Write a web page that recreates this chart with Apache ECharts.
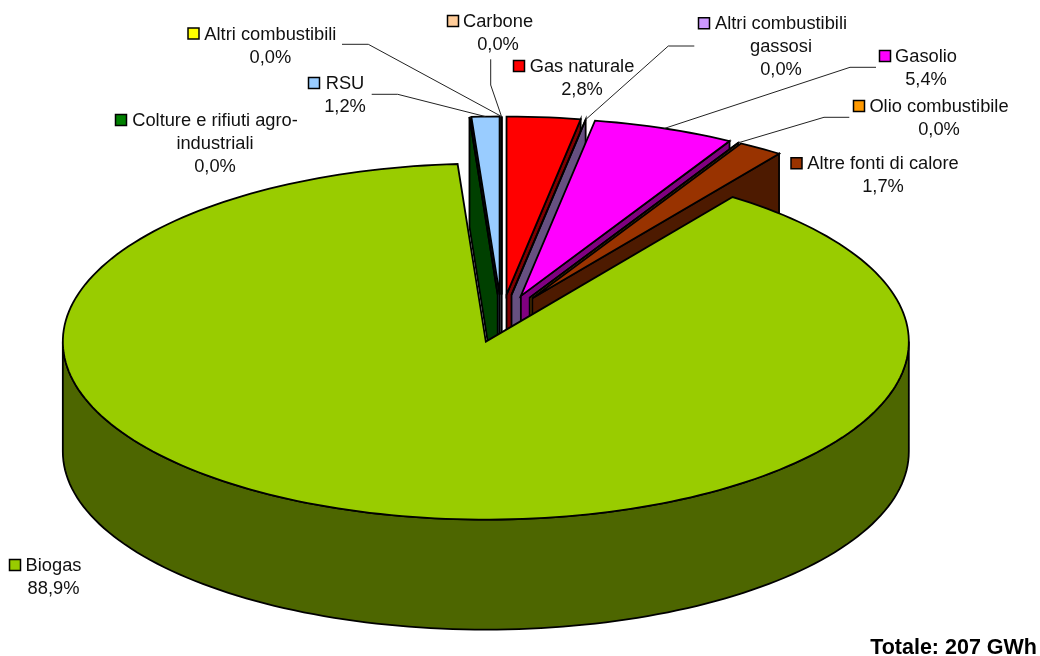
<!DOCTYPE html>
<html>
<head>
<meta charset="utf-8">
<style>html,body{margin:0;padding:0;background:#fff}#c{width:1040px;height:656px}</style>
<script src="https://cdn.jsdelivr.net/npm/echarts@6/dist/echarts.min.js"></script>
</head>
<body>
<div id="c"></div>
<script>
// --- data ---
var categories = ['Gas naturale', 'Altri combustibili\ngassosi', 'Gasolio', 'Olio combustibile', 'Altre fonti di calore', 'Biogas', 'Colture e rifiuti agro-\nindustriali', 'RSU', 'Altri combustibili', 'Carbone'];
var shares = [2.8, 0.0, 5.4, 0.0, 1.7, 88.9, 0.0, 1.2, 0.0, 0.0];
var totalLabel = 'Totale: 207 GWh';

// --- styles ---
var colors = ['#FF0000', '#CC99FF', '#FF00FF', '#FF9900', '#993300', '#99CC00', '#008000', '#99CCFF', '#FFFF00', '#FFCC99'];
var wallColors = ['#800000', '#665080', '#800080', '#804D00', '#4D1A00', '#4D6600', '#004000', '#4D6680', '#808000', '#806650'];

// --- layout of the pie ---
var pieCx = 501.5, pieCy = 318.5, rx = 423, ry = 178, depth = 110, explode = 0.135;
var degPerUnit = 3.605; // rounded shares add up to 100.1, so the sweep is clamped at a full turn

// --- layout of the labels (same order as categories) ---
var labelCx = [582, 781, 926, 939, 883, 53.5, 215, 345, 270.4, 498];
var labelTop = [66, 23.3, 56, 106, 163.3, 565, 120, 83, 33.5, 21];
var swatchX = [513.5, 698.5, 879.5, 853.5, 791, 9.5, 115.5, 308.5, 188, 447.5];
var leaderFrom = [null, [694.3, 46], [876, 67.3], [849.3, 117.3], null, null, null, [371.7, 94.3], [342, 44.3], [490.7, 59.3]];
var leaderElbow = [null, [668.3, 46], [850, 67.3], [824, 117.3], null, null, null, [397.7, 94.3], [368.3, 44.3], [490.7, 85]];

var startAngles = [], endAngles = [];
(function () {
  var a = 0;
  shares.forEach(function (v) {
    startAngles.push(a);
    a = Math.min(360, a + v * degPerUnit);
    endAngles.push(a);
  });
})();
var rad = function (d) { return d * Math.PI / 180; };
var midAngle = function (i) { return (startAngles[i] + endAngles[i]) / 2; };
var paintRank = shares.map(function (_, i) { return i; })
  .sort(function (a, b) { return Math.cos(rad(midAngle(b))) - Math.cos(rad(midAngle(a))); });

function arcPts(ax, ay, from, to, dy) {
  var pts = [], n = Math.max(2, Math.ceil(Math.abs(to - from) / 1.5));
  for (var k = 0; k <= n; k++) {
    var t = rad(from + (to - from) * k / n);
    pts.push([ax + rx * Math.sin(t), ay - ry * Math.cos(t) + (dy || 0)]);
  }
  return pts;
}

function renderItem(params, api) {
  var i = params.dataIndex, value = api.value(1);
  var a0 = startAngles[i], a1 = endAngles[i], mid = (a0 + a1) / 2;
  var ax = pieCx + explode * rx * Math.sin(rad(mid));
  var ay = pieCy - explode * ry * Math.cos(rad(mid));
  var rank = paintRank.indexOf(i) * 3 + 1;
  var stroke = { stroke: '#000', lineWidth: 1.8, lineJoin: 'miter' };
  var kids = [];
  var poly = function (points, fill, z2) {
    return { type: 'polygon', z2: z2, shape: { points: points }, style: Object.assign({ fill: fill }, stroke) };
  };
  if (Math.cos(rad(mid)) > 0) {
    var wallA = Math.sin(rad(mid)) > 0 ? a1 : a0;
    var t = rad(wallA), ox = ax + rx * Math.sin(t), oy = ay - ry * Math.cos(t);
    kids.push(poly([[ax, ay], [ox, oy], [ox, oy + depth], [ax, ay + depth]], wallColors[i], rank));
  }
  var r0 = Math.max(a0, 90), r1 = Math.min(a1, 270);
  if (r1 > r0) {
    var rim = arcPts(ax, ay, r0, r1, 0).concat(arcPts(ax, ay, r1, r0, depth));
    kids.push(poly(rim, wallColors[i], rank));
  }
  kids.push(poly([[ax, ay]].concat(arcPts(ax, ay, a0, a1, 0)), colors[i], rank + 1));

  if (leaderFrom[i]) {
    var e = arcPts(ax, ay, mid, mid, 0)[0];
    kids.push({ type: 'polyline', z2: 900, shape: { points: [leaderFrom[i], leaderElbow[i], e] }, style: { fill: null, stroke: '#222', lineWidth: 1 } });
  }
  kids.push({ type: 'rect', z2: 901, shape: { x: swatchX[i], y: labelTop[i] - 5.5, width: 11, height: 11 }, style: { fill: colors[i], stroke: '#000', lineWidth: 1.5 } });
  kids.push({
    type: 'text', z2: 902,
    style: {
      text: categories[i] + '\n' + value.toFixed(1).replace('.', ',') + '%',
      x: labelCx[i], y: labelTop[i] - 10.5,
      align: 'center', verticalAlign: 'top', lineHeight: 23,
      fontFamily: '"Liberation Sans", Arial, sans-serif', fontSize: 18.3, fill: '#111'
    }
  });
  return { type: 'group', children: kids };
}

var chart = echarts.init(document.getElementById('c'));
chart.setOption({
  animation: false,
  backgroundColor: '#fff',
  title: {
    text: totalLabel, right: 3, top: 637, padding: 0,
    textStyle: { fontFamily: '"Liberation Sans", Arial, sans-serif', fontSize: 21.5, fontWeight: 'bold', color: '#000' }
  },
  series: [{
    type: 'custom',
    coordinateSystem: 'none',
    renderItem: renderItem,
    silent: true,
    data: shares.map(function (v, i) { return { name: categories[i], value: [i, v] }; })
  }]
});
</script>
</body>
</html>
